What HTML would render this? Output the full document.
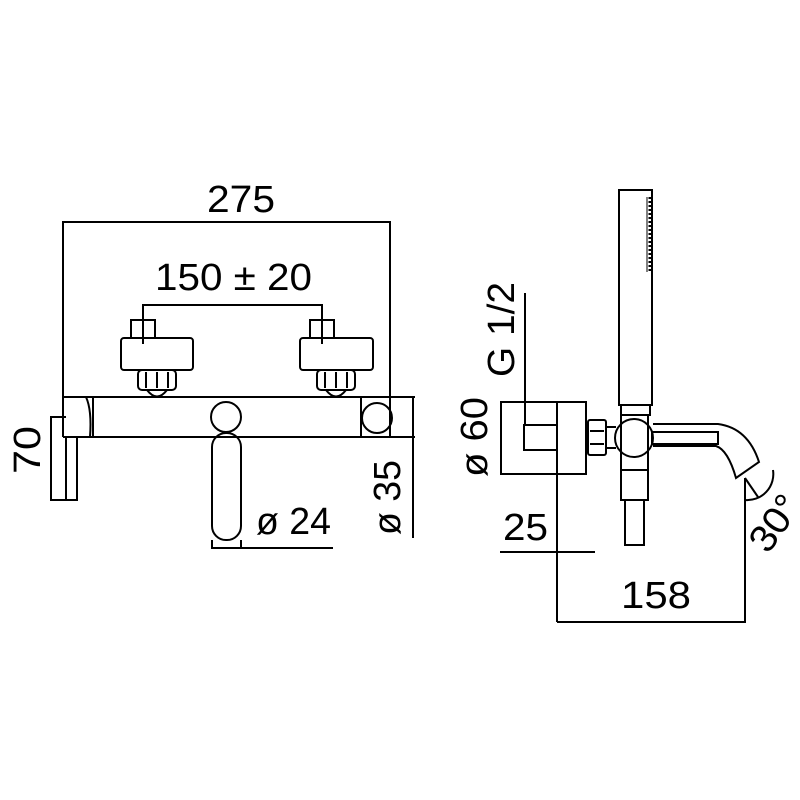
<!DOCTYPE html>
<html><head><meta charset="utf-8"><style>html,body{margin:0;padding:0;background:#fff}svg{display:block}</style></head>
<body>
<svg width="800" height="800" viewBox="0 0 800 800" xmlns="http://www.w3.org/2000/svg">
<g fill="none" stroke="#000" stroke-width="2">
<!-- 275 dim -->
<polyline points="63,398 63,222 390,222 390,398"/>
<!-- 150 dim -->
<polyline points="143,344 143,305 322,305 322,344"/>
<!-- left handle -->
<rect x="131" y="320" width="24" height="18"/>
<rect x="121" y="338" width="72" height="32" rx="3"/>
<rect x="138" y="370" width="38" height="20" rx="4"/>
<line x1="146" y1="372" x2="146" y2="388"/><line x1="157" y1="372" x2="157" y2="388"/><line x1="168" y1="372" x2="168" y2="388"/>
<path d="M147,390 Q157,403 167,390"/>
<!-- right handle -->
<rect x="310" y="320" width="24" height="18"/>
<rect x="300" y="338" width="73" height="32" rx="3"/>
<rect x="317" y="370" width="38" height="20" rx="4"/>
<line x1="325" y1="372" x2="325" y2="388"/><line x1="336" y1="372" x2="336" y2="388"/><line x1="347" y1="372" x2="347" y2="388"/>
<path d="M326,390 Q336,403 346,390"/>
<!-- body -->
<line x1="63" y1="397" x2="415" y2="397"/>
<line x1="63" y1="437" x2="415" y2="437"/>
<line x1="63" y1="397" x2="63" y2="437"/>
<line x1="93" y1="397" x2="93" y2="437"/>
<path d="M86,397 Q92,410 90,437"/>
<line x1="361" y1="397" x2="361" y2="437"/>
<line x1="390" y1="397" x2="390" y2="437"/>
<circle cx="377" cy="418" r="15"/>
<line x1="413" y1="397" x2="413" y2="538"/>
<!-- left lever -->
<polyline points="66,417 51,417 51,500 77,500 77,437"/>
<line x1="66" y1="437" x2="66" y2="500"/>
<!-- center lever -->
<circle cx="226" cy="417" r="15"/>
<rect x="212" y="433" width="29" height="107" rx="14"/>
<polyline points="212,540 212,548 333,548"/>
<line x1="241" y1="540" x2="241" y2="548"/>
<!-- right view -->
<rect x="619" y="190" width="33" height="215"/>
<line x1="647" y1="197" x2="647" y2="272" stroke-width="1"/>
<line x1="650" y1="197" x2="650" y2="272" stroke-width="3" stroke-dasharray="2,2"/>
<rect x="621" y="405" width="29" height="10"/>
<rect x="501" y="402" width="85" height="72"/>
<line x1="557" y1="402" x2="557" y2="622"/>
<rect x="524" y="425" width="33" height="25"/>
<line x1="525" y1="293" x2="525" y2="425"/>
<rect x="588" y="420" width="18" height="35" rx="2"/>
<line x1="590" y1="431" x2="604" y2="431"/><line x1="590" y1="444" x2="604" y2="444"/>
<line x1="606" y1="427" x2="616" y2="427"/><line x1="606" y1="448" x2="616" y2="448"/>
<circle cx="634" cy="438" r="19"/>
<line x1="621" y1="415" x2="621" y2="470"/><line x1="648" y1="415" x2="648" y2="470"/>
<path d="M653,424 L718,424 Q748,428 759,462 L736,478 Q728,450 716,446 L653,446"/>
<rect x="652" y="432" width="66" height="12"/>
<rect x="621" y="470" width="27" height="30"/>
<rect x="625" y="500" width="19" height="45"/>
<polyline points="500,552 595,552"/>
<polyline points="557,622 745,622 745,478"/>
<line x1="745" y1="478" x2="758" y2="497"/>
<path d="M745,500 A26,26 0 0 0 773,470"/>
</g>
<g font-family="'Liberation Sans Narrow','Liberation Sans',sans-serif" font-size="38" fill="#000">
<text x="207" y="212" textLength="68" lengthAdjust="spacingAndGlyphs">275</text>
<text x="155" y="290" textLength="157" lengthAdjust="spacingAndGlyphs">150 ± 20</text>
<text x="256" y="534" textLength="75" lengthAdjust="spacingAndGlyphs">ø 24</text>
<text x="503" y="540" textLength="45" lengthAdjust="spacingAndGlyphs">25</text>
<text x="621" y="608" textLength="70" lengthAdjust="spacingAndGlyphs">158</text>
<text transform="translate(40,474) rotate(-90)" textLength="48" lengthAdjust="spacingAndGlyphs">70</text>
<text transform="translate(400,535) rotate(-90)" textLength="75" lengthAdjust="spacingAndGlyphs">ø 35</text>
<text transform="translate(487,477) rotate(-90)" textLength="80" lengthAdjust="spacingAndGlyphs">ø 60</text>
<text transform="translate(514,377) rotate(-90)" textLength="95" lengthAdjust="spacingAndGlyphs">G 1/2</text>
<text transform="translate(768,555) rotate(-55)" textLength="60" lengthAdjust="spacingAndGlyphs">30°</text>
</g>
</svg>
</body></html>
